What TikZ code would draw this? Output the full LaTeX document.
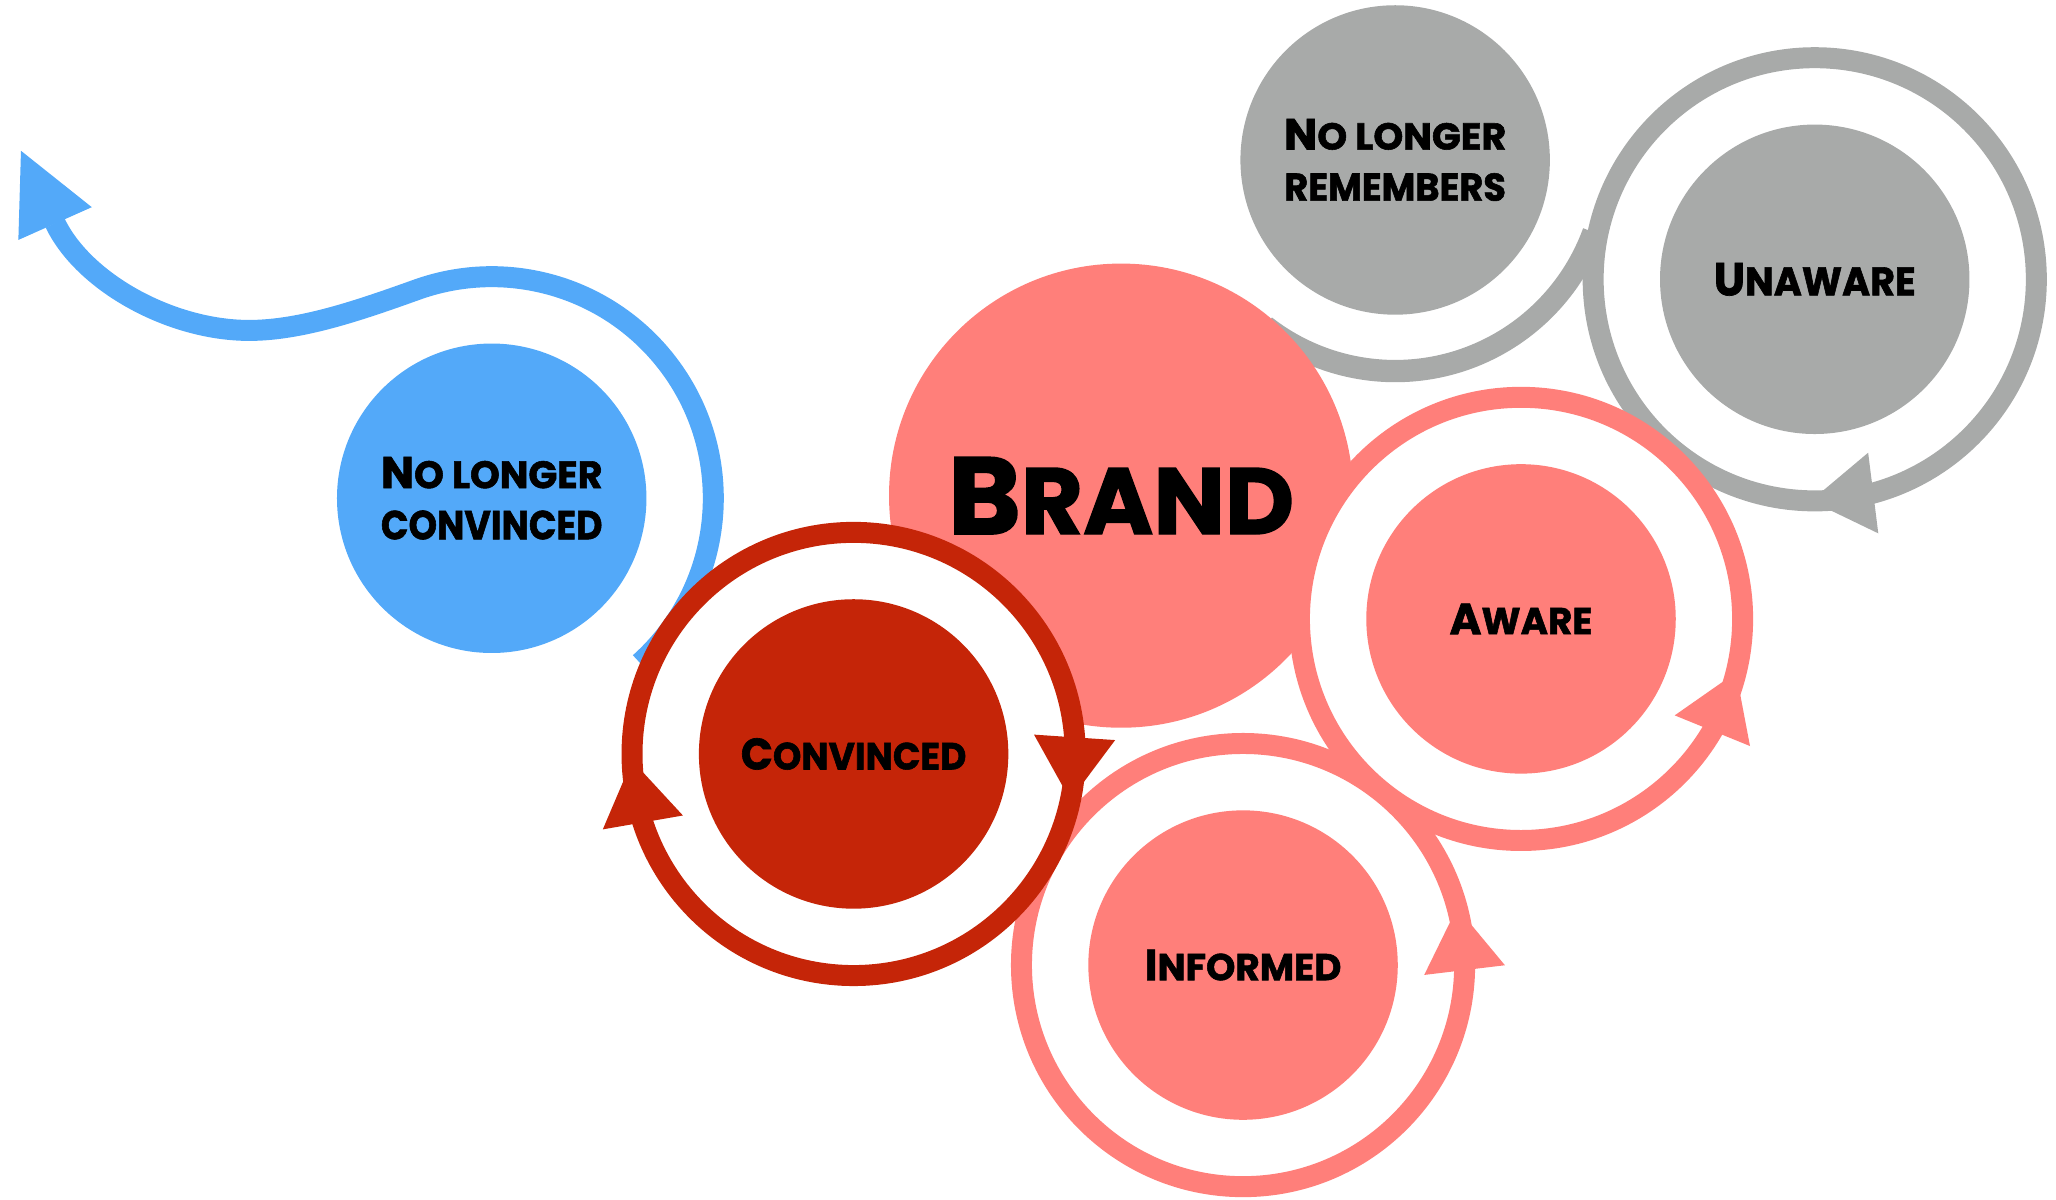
\documentclass[tikz,border=0pt]{standalone}
\usepackage{fontspec}
\usepackage{graphicx}
\newfontfamily\labelfont{Poppins}[BoldFeatures={FakeBold=1.5}]
\usetikzlibrary{calc}
\definecolor{cpink}{HTML}{FF7F7A}
\definecolor{cgray}{HTML}{A8AAA9}
\definecolor{cblue}{HTML}{53A9F9}
\definecolor{cred}{HTML}{C52508}
\newcommand\lbl[4]{\resizebox{#1pt}{#2pt}{\labelfont\bfseries{\fontsize{20}{20}\selectfont #3}{\fontsize{17.2}{20}\selectfont #4}}}
% arrowhead on a ring: #1 colour, #2 centre, #3 tip angle, #4 base angle
\newcommand\ringhead[4]{%
  \path ($(#2)+(#3:169)$) coordinate (hdtip) ($(#2)+(#4:169)$) coordinate (hdbase);
  \fill[#1] (hdtip) -- ($(hdbase)!31pt!90:(hdtip)$) -- ($(hdbase)!31pt!-90:(hdtip)$) -- cycle;}
\begin{document}
\begin{tikzpicture}[x=1pt,y=-1pt,
  band/.style={line width=16pt},
  disc/.style={circle,inner sep=0pt,minimum size=236pt,text=black,align=center,font=\fontsize{10}{39}\selectfont},
  bigdisc/.style={circle,inner sep=0pt,minimum size=354pt,text=black,align=center},
  gap/.style={fill=white}]
\useasboundingbox (0,0) rectangle (1568,915);

% --- blue: no longer convinced
\node[disc,fill=cblue] (nlc) at (375,380) {\lbl{169}{23.8}{N}{O LONGER}\\\lbl{169}{22}{}{CONVINCED}};
\coordinate (trough) at (190,252);
\coordinate (bluebase) at (42,170);
\coordinate (bluetip) at (16,115);
\coordinate (bluel) at (14,183);
\coordinate (bluer) at (70,158);
\draw[band,cblue] (nlc.center) ++(48:169) arc[start angle=48,end angle=-110,radius=169]
  .. controls +(-42,15) and +(40,0) .. (trough)
  .. controls +(-60,0) and +(21.5,45) .. (bluebase);
\fill[cblue] (bluetip) -- (bluel) -- (bluer) -- cycle;

% --- gray: no longer remembers / unaware
\node[disc,fill=cgray] (nlr) at (1064,122) {\lbl{169.5}{23.3}{N}{O LONGER}\\\lbl{169}{21}{}{REMEMBERS}};
\node[disc,fill=cgray] (una) at (1384,213) {\lbl{154}{24.8}{U}{NAWARE}};
\draw[line width=17pt,cgray] (nlr.center) ++(128:161) arc[start angle=128,end angle=20,radius=161];
\draw[band,cgray] (una.center) circle[radius=169];
\ringhead{cgray}{una.center}{91}{74.7}

% --- brand
\node[bigdisc,fill=cpink] (brand) at (855,378) {\lbl{264}{58.5}{B}{RAND}};

% --- aware and informed
\coordinate (awc) at (1160,472);
\coordinate (infc) at (948,736);
\fill[gap] (awc) circle[radius=170];
\fill[gap] (infc) circle[radius=170];
\draw[band,cpink] (awc) circle[radius=169];
\draw[band,cpink] (infc) circle[radius=169];
\ringhead{cpink}{awc}{14}{30.3}
\ringhead{cpink}{infc}{-15}{1.3}
\node[disc,fill=cpink] (aware) at (awc) {\lbl{109}{23.3}{A}{WARE}};
\node[disc,fill=cpink] (inf) at (infc) {\lbl{150}{23.3}{I}{NFORMED}};

% --- convinced
\coordinate (convc) at (651,575);
\fill[gap] (convc) circle[radius=170];
\draw[band,cred] (convc) circle[radius=169];
\ringhead{cred}{convc}{12}{-4.3}
\ringhead{cred}{convc}{178.3}{162}
\node[disc,fill=cred] (conv) at (convc) {\lbl{172}{23.9}{C}{ONVINCED}};
\end{tikzpicture}
\end{document}
